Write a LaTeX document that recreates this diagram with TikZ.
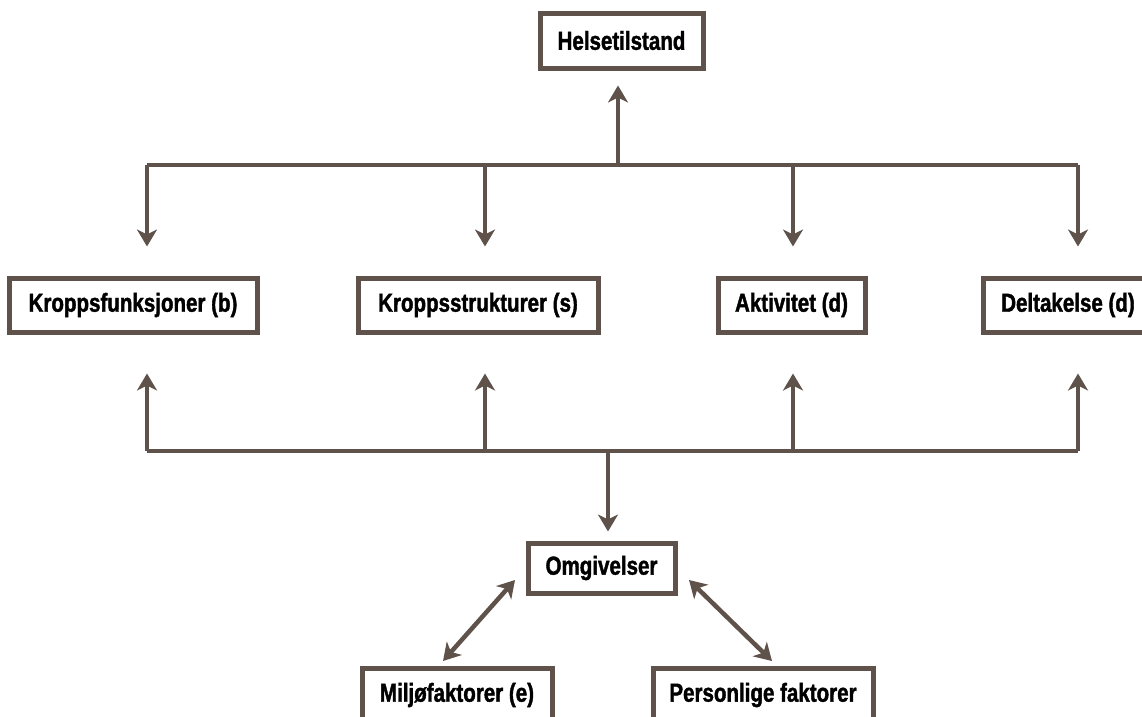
\documentclass[tikz,border=0pt]{standalone}
\usepackage{fontspec}
\setmainfont{Liberation Sans}[FakeStretch=0.79, BoldFeatures={FakeBold=1.5}]
\usetikzlibrary{arrows.meta}
\definecolor{lc}{RGB}{94,82,75}
\tikzset{
  box/.style={draw=lc, line width=5pt, fill=white, inner sep=0pt, minimum height=54pt,
    font=\fontsize{26}{28}\selectfont\bfseries, text=black},
  conn/.style={draw=lc, line width=4.5pt},
  arr/.style={conn, -{Stealth[length=17pt,width=20pt,inset=5pt]}},
  darr/.style={conn, {Stealth[length=17pt,width=20pt,inset=5pt]}-{Stealth[length=17pt,width=20pt,inset=5pt]}},
}
\begin{document}
\begin{tikzpicture}[x=1pt,y=-1pt]
\useasboundingbox (0,0) rectangle (1142,716);
\clip (0,0) rectangle (1142,716);
\node[box, minimum width=163pt, minimum height=55pt] (hs) at (621.5,40.5) {Helsetilstand};
\node[box, minimum width=248pt] (kf) at (133,305) {Kroppsfunksjoner (b)};
\node[box, minimum width=240pt] (ks) at (478,305) {Kroppsstrukturer (s)};
\node[box, minimum width=147pt] (ak) at (791.5,305) {Aktivitet (d)};
\node[box, minimum width=170pt] (dt) at (1068,305) {Deltakelse (d)};
\node[box, minimum width=147pt, minimum height=50pt] (om) at (601.5,568) {Omgivelser};
\node[box, minimum width=190pt] (mf) at (457,695) {Miljøfaktorer (e)};
\node[box, minimum width=220pt] (pf) at (763,695) {Personlige faktorer};
% top bar
\coordinate (t0) at (618,165);
\coordinate (t1) at (147,165);
\coordinate (t2) at (485,165);
\coordinate (t3) at (793,165);
\coordinate (t4) at (1078,165);
\draw[conn] (t1) -- (t4);
\draw[arr, shorten >=15pt] (t0) -- (t0 |- hs.south);
\draw[arr, shorten >=29pt] (t1) -- (t1 |- kf.north);
\draw[arr, shorten >=29pt] (t2) -- (t2 |- ks.north);
\draw[arr, shorten >=29pt] (t3) -- (t3 |- ak.north);
\draw[arr, shorten >=29pt] (t4) -- (t4 |- dt.north);
% bottom bar
\coordinate (u0) at (608,451);
\coordinate (u1) at (147,451);
\coordinate (u2) at (485,451);
\coordinate (u3) at (793,451);
\coordinate (u4) at (1078,451);
\draw[conn] (u1) -- (u4);
\draw[arr, shorten >=39pt] (u1) -- (u1 |- kf.south);
\draw[arr, shorten >=39pt] (u2) -- (u2 |- ks.south);
\draw[arr, shorten >=39pt] (u3) -- (u3 |- ak.south);
\draw[arr, shorten >=39pt] (u4) -- (u4 |- dt.south);
\draw[arr, shorten >=9pt] (u0) -- (u0 |- om.north);
% diagonals
\coordinate (d1a) at (515,580);
\coordinate (d1b) at (443,661);
\coordinate (d2a) at (689,580);
\coordinate (d2b) at (772,661);
\draw[darr] (d1a) -- (d1b);
\draw[darr] (d2a) -- (d2b);
\end{tikzpicture}
\end{document}
